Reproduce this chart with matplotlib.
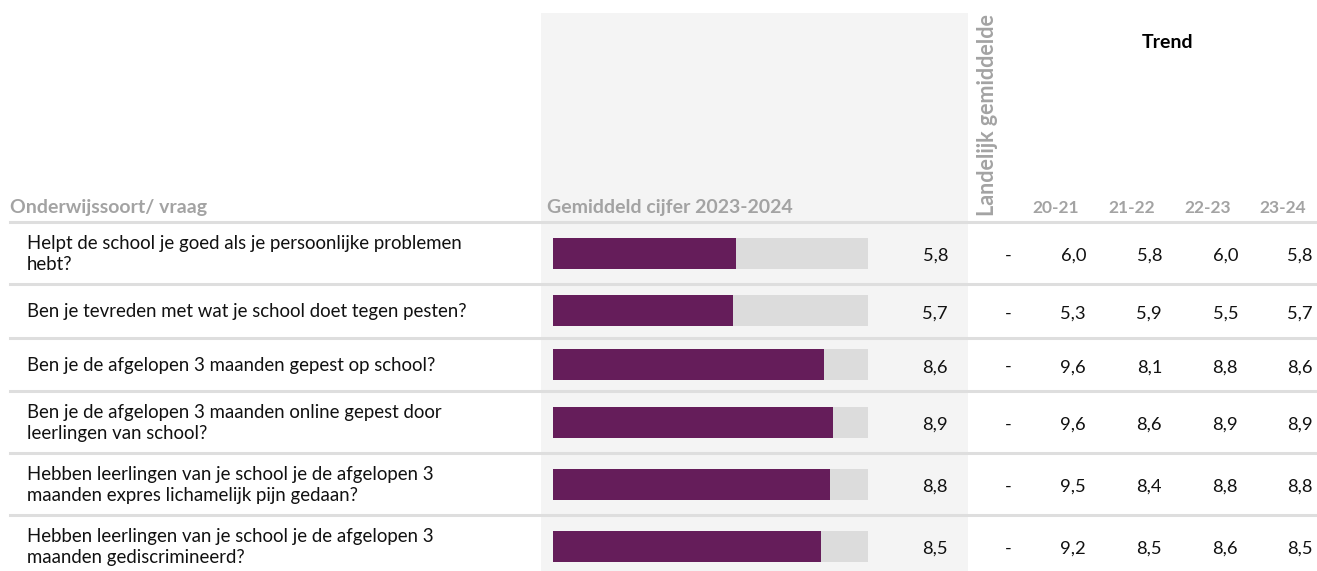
import matplotlib
matplotlib.use("Agg")
import matplotlib.pyplot as plt

plt.rcParams["font.family"] = ["Lato", "DejaVu Sans"]

questions = [
    "Helpt de school je goed als je persoonlijke problemen\nhebt?",
    "Ben je tevreden met wat je school doet tegen pesten?",
    "Ben je de afgelopen 3 maanden gepest op school?",
    "Ben je de afgelopen 3 maanden online gepest door\nleerlingen van school?",
    "Hebben leerlingen van je school je de afgelopen 3\nmaanden expres lichamelijk pijn gedaan?",
    "Hebben leerlingen van je school je de afgelopen 3\nmaanden gediscrimineerd?",
]
scores = [5.8, 5.7, 8.6, 8.9, 8.8, 8.5]
national = ["-", "-", "-", "-", "-", "-"]
periods = ["20-21", "21-22", "22-23", "23-24"]
trend = [
    [6.0, 5.3, 9.6, 9.6, 9.5, 9.2],  # 20-21
    [5.8, 5.9, 8.1, 8.6, 8.4, 8.5],  # 21-22
    [6.0, 5.5, 8.8, 8.9, 8.8, 8.6],  # 22-23
    [5.8, 5.7, 8.6, 8.9, 8.8, 8.5],  # 23-24
]
max_score = 10

W, H = 1317, 571
PURPLE = "#651d5a"
BAR_BG = "#dcdcdc"
PANEL = "#f4f4f4"
RULE = "#dedede"
HEAD = "#a3a3a3"
INK = "#111111"


def fmt(v):
    return f"{v:.1f}".replace(".", ",")


fig = plt.figure(figsize=(W / 100, H / 100), dpi=100)
ax = fig.add_axes([0, 0, 1, 1])
ax.set_xlim(0, W)
ax.set_ylim(H, 0)
ax.axis("off")

# row layout: taller rows for two-line questions
header_bottom = 222
tops, centers = [], []
y = header_bottom
for q in questions:
    h = 62 if "\n" in q else 53.5
    tops.append(y)
    centers.append(y + h / 2)
    y += h

# grey panel behind the score column
ax.add_patch(plt.Rectangle((541, 13), 427, H - 13, color=PANEL, zorder=0, lw=0))

# horizontal rules
ax.plot([10, W], [header_bottom, header_bottom], color=RULE, lw=2.2, zorder=1)
for t in tops[1:]:
    ax.plot([10, W], [t, t], color=RULE, lw=2.2, zorder=1)

# headers
head_kw = dict(color=HEAD, fontsize=14, fontweight="bold")
ax.text(10, 207, "Onderwijssoort/ vraag", va="center", ha="left", **head_kw)
ax.text(547, 207, "Gemiddeld cijfer 2023-2024", va="center", ha="left", **head_kw)
ax.text(988, 216, "Landelijk gemiddelde", rotation=90, va="bottom",
        ha="center", color=HEAD, fontsize=15.5, fontweight="bold")
ax.text(1168, 43, "Trend", color="black", fontsize=14,
        fontweight="bold", va="center", ha="center")
period_x = [1086, 1162, 1238, 1313]
for px, p in zip(period_x, periods):
    ax.text(px - 7, 208, p, color=HEAD, fontsize=12.5, fontweight="bold",
            va="center", ha="right")

# question labels and numbers
for i, q in enumerate(questions):
    cy = centers[i]
    ax.text(27, cy + 1, q, fontsize=13.4, va="center", ha="left",
            linespacing=1.35, color=INK)
    ax.text(948, cy + 3, fmt(scores[i]), fontsize=13.2, va="center",
            ha="right", color=INK)
    ax.text(1008, cy + 3, national[i], fontsize=13.2, va="center",
            ha="center", color=INK)
    for px, col in zip(period_x, trend):
        ax.text(px, cy + 3, fmt(col[i]), fontsize=13.2, va="center",
                ha="right", color=INK)

# score bars on their own 0-10 scale
bx = fig.add_axes([553 / W, 0, 315 / W, 1])
bx.set_xlim(0, max_score)
bx.set_ylim(H, 0)
bx.axis("off")
bx.patch.set_alpha(0)
bx.barh(centers, [max_score] * len(scores), height=31, color=BAR_BG, lw=0)
bx.barh(centers, scores, height=31, color=PURPLE, lw=0)

fig.savefig("out.png", dpi=100)
